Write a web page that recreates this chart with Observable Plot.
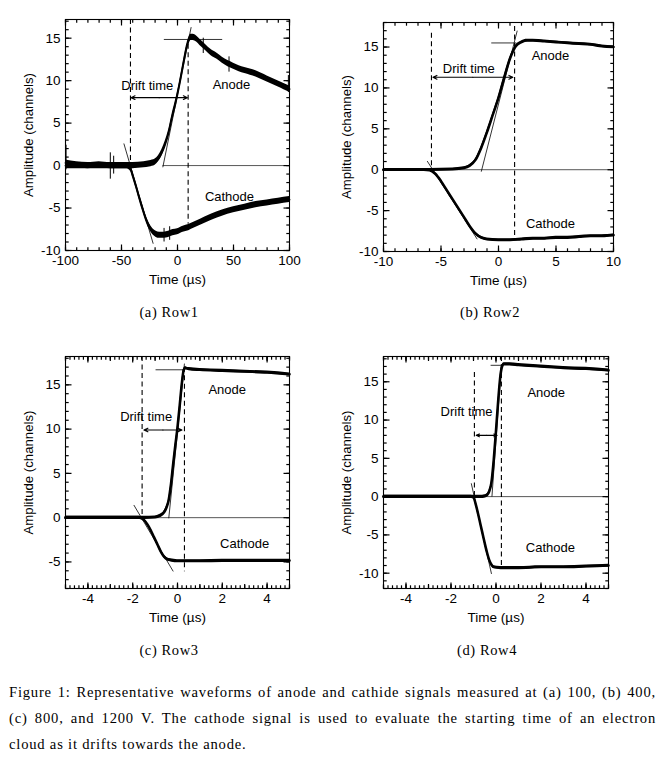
<!DOCTYPE html>
<html><head><meta charset="utf-8">
<script src="https://cdn.jsdelivr.net/npm/d3@7"></script>
<script src="https://cdn.jsdelivr.net/npm/@observablehq/plot@0.6"></script>
<style>
body{margin:0;background:#fff;}
#page{position:relative;width:664px;height:769px;background:#fff;overflow:hidden;}
.panel{position:absolute;}
.sub{position:absolute;font-family:"Liberation Serif","Times New Roman",serif;font-size:14.5px;letter-spacing:0.6px;transform:translate(-50%,-50%);white-space:nowrap;color:#000;}
.cap{position:absolute;left:9px;width:647px;font-family:"Liberation Serif","Times New Roman",serif;font-size:14.6px;letter-spacing:0.8px;line-height:16px;color:#000;text-align:justify;}
.cap.j{text-align-last:justify;}
</style>
</head><body>
<div id="page">
  <div class="panel" id="pa" style="left:0;top:0"></div>
  <div class="panel" id="pb" style="left:330px;top:0"></div>
  <div class="panel" id="pc" style="left:0;top:340px"></div>
  <div class="panel" id="pd" style="left:330px;top:340px"></div>
  <div class="sub" style="left:169px;top:312px">(a) Row1</div>
  <div class="sub" style="left:490px;top:312px">(b) Row2</div>
  <div class="sub" style="left:169px;top:650px">(c) Row3</div>
  <div class="sub" style="left:487px;top:650px">(d) Row4</div>
  <div class="cap j" style="top:684px">Figure 1: Representative waveforms of anode and cathide signals measured at (a) 100, (b) 400,</div>
  <div class="cap j" style="top:710px">(c) 800, and 1200 V. The cathode signal is used to evaluate the starting time of an electron</div>
  <div class="cap" style="top:736px">cloud as it drifts towards the anode.</div>
</div>
<script>
// ---------- Panel (a): 100 V ----------
const aAnodeT = [-100,-90,-80,-70,-60,-50,-40,-30,-25,-20,-17,-14,-11,-8,-5,-2,0,2,4,6,8,10,12,14,17,20,25,30,35,40,45,50,55,60,65,70,75,80,85,90,95,100];
const aAnodeV = [0.3,0.1,0,0.1,0,0,0,0.1,0.2,0.4,0.8,1.5,2.5,3.8,5.6,7.2,8.4,9.7,11.1,12.5,13.8,14.7,15.1,15.1,14.9,14.5,13.9,13.3,12.9,12.4,12.0,11.7,11.4,11.2,11.0,10.8,10.5,10.2,9.9,9.6,9.3,9.0];
const aCathT = [-100,-90,-80,-70,-60,-50,-45,-42,-40,-37,-34,-31,-28,-25,-22,-19,-16,-12,-8,-4,0,5,10,15,20,30,40,50,60,70,80,90,100];
const aCathV = [0,0,0,0,0,0,0,-0.3,-1.1,-2.4,-3.8,-5.1,-6.3,-7.2,-7.8,-8.1,-8.2,-8.2,-8.1,-7.9,-7.8,-7.5,-7.3,-7.0,-6.7,-6.1,-5.6,-5.2,-4.9,-4.6,-4.4,-4.2,-4.0];
const aSpikes = [[-99.5,-0.5,2.4],[-60,-1.6,1.5],[-57,-1.0,1.1],[-12,-9.0,-7.4],[-7,-8.8,-7.2],[23,13.2,15.0],[46,11.0,12.8],[99,8.6,10.6]];
const aTangents = [[-13.1,-0.2,12.2,16.3],[-47.9,2.6,-21.7,-9.2],[-12.2,14.85,39.9,14.85]];
const aDashed = [[-42,17.2,0],[9.5,14.3,-6.9]];
const aArrow = [-41.5,8.8,8.0];
const aLabels = [{t:-27,v:9.4,s:"Drift time"},{t:48.2,v:9.45,s:"Anode"},{t:46.4,v:-3.7,s:"Cathode"}];

// ---------- Panel (b): 400 V ----------
const bAnodeT = [-10,-8,-6,-4,-3,-2.5,-2,-1.5,-1,-0.5,0,0.5,1,1.5,2,2.5,3,4,5,6,7,8,9,10];
const bAnodeV = [0,0,0,0.05,0.2,0.5,1.2,2.7,4.6,6.7,8.8,11.3,13.6,15.1,15.6,15.8,15.8,15.7,15.6,15.5,15.4,15.3,15.1,15.0];
const bCathT = [-10,-8,-6.5,-6,-5.5,-5,-4.5,-4,-3.5,-3,-2.5,-2,-1.5,-1,0,1,2,3,4,5,6,7,8,9,10];
const bCathV = [0,0,0,-0.05,-0.5,-1.4,-2.5,-3.6,-4.7,-5.8,-6.9,-7.8,-8.3,-8.5,-8.6,-8.6,-8.5,-8.4,-8.4,-8.3,-8.3,-8.2,-8.1,-8.1,-8.0];
const bTangents = [[-1.5,-0.24,1.63,17],[-6.2,1.06,-1.85,-8.5],[-0.63,15.5,1.55,15.5]];
const bDashed = [[-5.83,16.7,0],[1.4,17.5,-8.5]];
const bArrow = [-5.7,1.25,11.3];
const bLabels = [{t:-2.58,v:12.3,s:"Drift time"},{t:4.52,v:13.9,s:"Anode"},{t:4.52,v:-6.6,s:"Cathode"}];

// ---------- Panel (c): 800 V ----------
const cAnodeT = [-5,-4,-3,-2,-1.5,-1,-0.8,-0.6,-0.5,-0.4,-0.3,-0.2,-0.1,0,0.1,0.2,0.28,0.35,0.5,1,2,3,4,5];
const cAnodeV = [0,0,0,0,0,0.05,0.2,0.6,1.1,1.9,3.6,5.9,8.1,10.2,12.7,15.3,16.7,16.9,16.8,16.7,16.6,16.5,16.4,16.2];
const cCathT = [-5,-4,-3,-2,-1.7,-1.5,-1.35,-1.2,-1.05,-0.9,-0.75,-0.6,-0.45,-0.3,0,0.5,1,2,3,4,5];
const cCathV = [0,0,0,0,0,-0.25,-0.75,-1.4,-2.2,-3.0,-3.8,-4.4,-4.7,-4.8,-4.9,-4.9,-4.9,-4.85,-4.85,-4.85,-4.85];
const cTangents = [[-0.39,-0.07,0.31,17.4],[-1.95,1.43,-0.19,-6.07],[-0.98,16.7,0.31,16.7]];
const cDashed = [[-1.58,18.2,0],[0.31,17.0,-6.1]];
const cArrow = [-1.5,0.2,9.9];
const cLabels = [{t:-1.4,v:11.4,s:"Drift time"},{t:2.22,v:14.4,s:"Anode"},{t:3.0,v:-2.96,s:"Cathode"}];

// ---------- Panel (d): 1200 V ----------
const dAnodeT = [-5,-4,-3,-2,-1,-0.6,-0.5,-0.4,-0.3,-0.2,-0.1,0,0.1,0.2,0.27,0.35,0.6,1,2,3,4,5];
const dAnodeV = [0,0,0,0,0,0,0.05,0.2,0.7,1.9,4.8,8.6,12.6,15.9,17.0,17.3,17.3,17.2,17.0,16.8,16.7,16.5];
const dCathT = [-5,-4,-3,-2,-1.1,-1,-0.9,-0.8,-0.7,-0.6,-0.5,-0.4,-0.3,-0.2,-0.1,0.2,1,2,3,4,5];
const dCathV = [0,0,0,0,0,-0.1,-1.0,-2.2,-3.5,-4.8,-6.1,-7.3,-8.3,-8.9,-9.2,-9.3,-9.3,-9.2,-9.2,-9.1,-9.0];
const dTangents = [[-0.18,0,0.24,17.3],[-1.1,1.74,-0.2,-10.1],[-0.24,17.15,0.28,17.15]];
const dDashed = [[-0.96,16.2,0],[0.24,18.3,-9.2]];
const dArrow = [-0.88,0.05,8.0];
const dLabels = [{t:-1.31,v:11.1,s:"Drift time"},{t:2.23,v:13.5,s:"Anode"},{t:2.42,v:-6.7,s:"Cathode"}];

// ---------- Axis ticks ----------
const xTicksA = [-100,-50,0,50,100];
const xTicksB = [-10,-5,0,5,10];
const xTicksCD = [-4,-2,0,2,4];
const yTicksABD = [-10,-5,0,5,10,15];
const yTicksC = [-5,0,5,10,15];

const FONT = "'Liberation Sans', Arial, Helvetica, sans-serif";

function pts(T, V) { return T.map((t, i) => ({t, v: V[i]})); }

function panel(cfg) {
  const {width, height, ml, mr, mt, mb, xDomain, yDomain} = cfg;
  const innerW = width - ml - mr, innerH = height - mt - mb;
  const ux = (xDomain[1] - xDomain[0]) / innerW;   // data units per pixel
  const uy = (yDomain[1] - yDomain[0]) / innerH;
  const anode = pts(cfg.anodeT, cfg.anodeV);
  const cath = pts(cfg.cathT, cfg.cathV);
  const nz = cfg.noise;
  const [ax1, ax2, ay] = cfg.arrow;
  const mid = (ax1 + ax2) / 2;
  // inward ticks on all four sides of the frame
  const tickRows = [];
  const addX = (vals, len) => vals.forEach(v => {
    tickRows.push({a: v, b: yDomain[0], c: v, e: yDomain[0] + len * uy});
    tickRows.push({a: v, b: yDomain[1], c: v, e: yDomain[1] - len * uy});
  });
  const addY = (vals, len) => vals.forEach(v => {
    tickRows.push({a: xDomain[0], b: v, c: xDomain[0] + len * ux, e: v});
    tickRows.push({a: xDomain[1], b: v, c: xDomain[1] - len * ux, e: v});
  });
  addX(cfg.xMinor, 3.2); addX(cfg.xMed || [], 4.5); addX(cfg.xTicks, 6);
  addY(cfg.yMinor, 3.2); addY(cfg.yTicks, 6);
  return Plot.plot({
    width, height, marginLeft: ml, marginRight: mr, marginTop: mt, marginBottom: mb,
    x: {domain: xDomain},
    y: {domain: yDomain},
    style: {fontFamily: FONT, fontSize: "13.5px", background: "white", color: "black", overflow: "visible"},
    marks: [
      Plot.ruleY([0], {x1: cfg.baseFrom, x2: xDomain[1], stroke: "#444", strokeWidth: 0.9}),
      Plot.areaY(anode, {x: "t", y1: d => d.v - nz, y2: d => d.v + nz, fill: "black", curve: "monotone-x"}),
      Plot.areaY(cath, {x: "t", y1: d => d.v - nz, y2: d => d.v + nz, fill: "black", curve: "monotone-x"}),
      Plot.line(anode, {x: "t", y: "v", stroke: "black", strokeWidth: cfg.lw, curve: "monotone-x"}),
      Plot.line(cath, {x: "t", y: "v", stroke: "black", strokeWidth: cfg.lw, curve: "monotone-x"}),
      Plot.ruleX(cfg.spikes || [], {x: d => d[0], y1: d => d[1], y2: d => d[2], stroke: "black", strokeWidth: 1}),
      Plot.link(cfg.tangents, {x1: d => d[0], y1: d => d[1], x2: d => d[2], y2: d => d[3], stroke: "black", strokeWidth: 0.8}),
      Plot.ruleX(cfg.dashed, {x: d => d[0], y1: d => d[1], y2: d => d[2], stroke: "black", strokeWidth: 1.1, strokeDasharray: "5,3.5"}),
      Plot.arrow([[mid, ax1], [mid, ax2]], {x1: d => d[0], x2: d => d[1], y1: () => ay, y2: () => ay, stroke: "black", strokeWidth: 1.1, headLength: 6, headAngle: 50}),
      Plot.text(cfg.labels, {x: "t", y: "v", text: "s", fontSize: 13, fill: "black"}),
      Plot.link(tickRows, {x1: "a", y1: "b", x2: "c", y2: "e", stroke: "black", strokeWidth: 1.2}),
      Plot.frame({stroke: "black", strokeWidth: 1.1}),
      Plot.axisX(cfg.xTicks, {tickSize: 0, tickPadding: 5, tickFormat: d => String(d), label: null, fill: "black"}),
      Plot.axisY(cfg.yTicks, {tickSize: 0, tickPadding: 5, tickFormat: d => String(d), label: null, fill: "black"}),
      Plot.text(["Time (µs)"], {frameAnchor: "bottom", textAnchor: "middle", lineAnchor: "middle", dy: 29, fontSize: 13.5, fill: "black"}),
      Plot.text(["Amplitude (channels)"], {frameAnchor: "left", textAnchor: "middle", lineAnchor: "middle", dx: -37, rotate: -90, fontSize: 13.2, fill: "black"})
    ]
  });
}

const yMinorAll = d3.range(-12, 19, 1);

document.getElementById("pa").append(panel({
  width: 330, height: 290, ml: 65, mr: 41, mt: 19, mb: 40,
  xDomain: [-100, 100], yDomain: [-10, 17.2], baseFrom: -13,
  anodeT: aAnodeT, anodeV: aAnodeV, cathT: aCathT, cathV: aCathV,
  noise: 0.36, lw: 1.8, spikes: aSpikes,
  tangents: aTangents, dashed: aDashed, arrow: aArrow, labels: aLabels,
  xTicks: xTicksA, xMinor: d3.range(-100, 101, 10), yTicks: yTicksABD, yMinor: yMinorAll.filter(d => d >= -10 && d <= 17)
}));
document.getElementById("pb").append(panel({
  width: 334, height: 290, ml: 53, mr: 51, mt: 22, mb: 39,
  xDomain: [-10, 10], yDomain: [-10, 18], baseFrom: -10,
  anodeT: bAnodeT, anodeV: bAnodeV, cathT: bCathT, cathV: bCathV,
  noise: 0.15, lw: 2.6,
  tangents: bTangents, dashed: bDashed, arrow: bArrow, labels: bLabels,
  xTicks: xTicksB, xMinor: d3.range(-10, 11, 1), yTicks: yTicksABD, yMinor: yMinorAll.filter(d => d >= -10 && d <= 18)
}));
document.getElementById("pc").append(panel({
  width: 330, height: 290, ml: 65, mr: 41, mt: 16, mb: 42,
  xDomain: [-5, 5], yDomain: [-8, 18.2], baseFrom: -5,
  anodeT: cAnodeT, anodeV: cAnodeV, cathT: cCathT, cathV: cCathV,
  noise: 0.15, lw: 2.6,
  tangents: cTangents, dashed: cDashed, arrow: cArrow, labels: cLabels,
  xTicks: xTicksCD, xMed: d3.range(-5, 6, 1), xMinor: d3.range(-50, 51, 2).map(d => d / 10),
  yTicks: yTicksC, yMinor: yMinorAll.filter(d => d >= -8 && d <= 18)
}));
document.getElementById("pd").append(panel({
  width: 334, height: 290, ml: 53, mr: 56, mt: 16, mb: 42,
  xDomain: [-5, 5], yDomain: [-12, 18.3], baseFrom: -5,
  anodeT: dAnodeT, anodeV: dAnodeV, cathT: dCathT, cathV: dCathV,
  noise: 0.18, lw: 2.6,
  tangents: dTangents, dashed: dDashed, arrow: dArrow, labels: dLabels,
  xTicks: xTicksCD, xMed: d3.range(-5, 6, 1), xMinor: d3.range(-50, 51, 2).map(d => d / 10),
  yTicks: yTicksABD, yMinor: yMinorAll.filter(d => d >= -12 && d <= 18)
}));
</script>
</body></html>
